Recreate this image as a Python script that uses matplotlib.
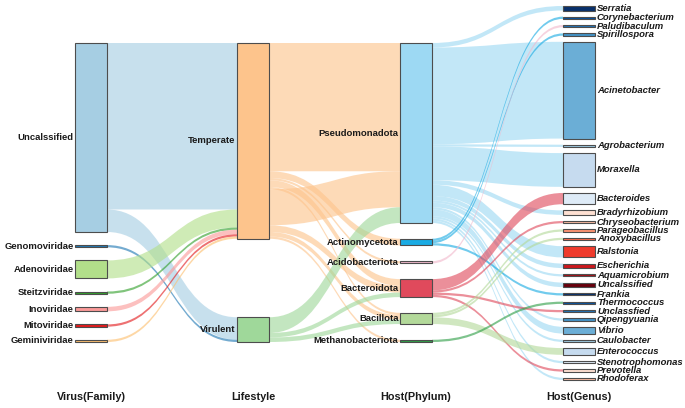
import matplotlib
matplotlib.use("Agg")
import matplotlib.pyplot as plt
from matplotlib.patches import Rectangle, PathPatch
from matplotlib.path import Path

plt.rcParams['font.family'] = ['Liberation Sans', 'DejaVu Sans']

# ---- nodes of each column ----
families = ['Uncalssified', 'Genomoviridae', 'Adenoviridae', 'Steitzviridae',
            'Inoviridae', 'Mitoviridae', 'Geminiviridae']
family_colors = ['#a6cee3', '#1f78b4', '#b2df8a', '#33a02c', '#fb9a99', '#e31a1c', '#fdbf6f']

lifestyles = ['Temperate', 'Virulent']
lifestyle_colors = ['#fdc48c', '#9fd89a']

phyla = ['Pseudomonadota', 'Actinomycetota', 'Acidobacteriota', 'Bacteroidota',
         'Bacillota', 'Methanobacteriota']
phylum_colors = ['#9dd9f3', '#1aabe3', '#f2b8cc', '#e04a5c', '#b3d99a', '#2f9e47']

genera = ['Serratia', 'Corynebacterium', 'Paludibaculum', 'Spirillospora', 'Acinetobacter',
          'Agrobacterium', 'Moraxella', 'Bacteroides', 'Bradyrhizobium', 'Chryseobacterium',
          'Parageobacillus', 'Anoxybacillus', 'Ralstonia', 'Escherichia', 'Aquamicrobium',
          'Uncalssified', 'Frankia', 'Thermococcus', 'Unclassfied', 'Qipengyuania', 'Vibrio',
          'Caulobacter', 'Enterococcus', 'Stenotrophomonas', 'Prevotella', 'Rhodoferax']
genus_colors = ['#08306b', '#08519c', '#2171b5', '#4292c6', '#6baed6', '#9ecae1', '#c6dbef',
                '#deebf7', '#fee0d2', '#fcbba1', '#fc9272', '#fb6a4a', '#ef3b2c', '#cb181d',
                '#a50f15', '#67000d', '#08306b', '#08519c', '#2171b5', '#4292c6', '#6baed6',
                '#9ecae1', '#c6dbef', '#deebf7', '#fee0d2', '#fcbba1']

column_titles = ['Virus(Family)', 'Lifestyle', 'Host(Phylum)', 'Host(Genus)']

# ---- links (source, target, count); listed in stacking order at the source ----
family_links = [
    ('Uncalssified', 'Temperate', 74),
    ('Uncalssified', 'Virulent', 10),
    ('Genomoviridae', 'Virulent', 1),
    ('Adenoviridae', 'Temperate', 8),
    ('Steitzviridae', 'Temperate', 1),
    ('Inoviridae', 'Temperate', 2),
    ('Mitoviridae', 'Temperate', 1),
    ('Geminiviridae', 'Temperate', 1),
]

lifestyle_links = [
    ('Temperate', 'Pseudomonadota', 57),
    ('Temperate', 'Actinomycetota', 3),
    ('Temperate', 'Acidobacteriota', 1),
    ('Temperate', 'Bacteroidota', 3),
    ('Temperate', 'Bacillota', 1),
    ('Temperate', 'Pseudomonadota', 16),
    ('Temperate', 'Bacteroidota', 3),
    ('Temperate', 'Bacillota', 2),
    ('Temperate', 'Methanobacteriota', 1),
    ('Virulent', 'Pseudomonadota', 7),
    ('Virulent', 'Bacteroidota', 2),
    ('Virulent', 'Bacillota', 2),
]

phylum_links = [
    ('Pseudomonadota', 'Serratia', 2),
    ('Pseudomonadota', 'Acinetobacter', 43),
    ('Pseudomonadota', 'Agrobacterium', 1),
    ('Pseudomonadota', 'Moraxella', 15),
    ('Pseudomonadota', 'Bradyrhizobium', 2),
    ('Pseudomonadota', 'Ralstonia', 5),
    ('Pseudomonadota', 'Escherichia', 2),
    ('Pseudomonadota', 'Aquamicrobium', 1),
    ('Pseudomonadota', 'Uncalssified', 2),
    ('Pseudomonadota', 'Qipengyuania', 1),
    ('Pseudomonadota', 'Vibrio', 3),
    ('Pseudomonadota', 'Caulobacter', 1),
    ('Pseudomonadota', 'Stenotrophomonas', 1),
    ('Pseudomonadota', 'Rhodoferax', 1),
    ('Actinomycetota', 'Corynebacterium', 1),
    ('Actinomycetota', 'Spirillospora', 1),
    ('Actinomycetota', 'Frankia', 1),
    ('Acidobacteriota', 'Paludibaculum', 1),
    ('Bacteroidota', 'Bacteroides', 5),
    ('Bacteroidota', 'Chryseobacterium', 1),
    ('Bacteroidota', 'Unclassfied', 1),
    ('Bacteroidota', 'Prevotella', 1),
    ('Bacillota', 'Parageobacillus', 1),
    ('Bacillota', 'Anoxybacillus', 1),
    ('Bacillota', 'Enterococcus', 3),
    ('Methanobacteriota', 'Thermococcus', 1),
]

columns = [families, lifestyles, phyla, genera]
colors = [family_colors, lifestyle_colors, phylum_colors, genus_colors]
links = [family_links, lifestyle_links, phylum_links]

# ---- layout (figure pixels, y down) ----
col_x = [75, 237, 400, 563]
node_w = 32
col_span = [(43, 342), (43, 342), (43, 342), (6, 380)]
unit = 2.25  # pixels per count

# node values: outgoing for the first column, incoming for the others
values = []
for c, names in enumerate(columns):
    v = dict((n, 0) for n in names)
    if c == 0:
        for s, t, n in links[0]:
            v[s] += n
    else:
        for s, t, n in links[c - 1]:
            v[t] += n
    values.append(v)

tops = []
for c, names in enumerate(columns):
    total = sum(values[c].values()) * unit
    y0, y1 = col_span[c]
    gap = (y1 - y0 - total) / (len(names) - 1)
    y = y0
    d = {}
    for n in names:
        d[n] = y
        y += values[c][n] * unit + gap
    tops.append(d)

fig = plt.figure(figsize=(6.85, 4.08), dpi=100)
ax = fig.add_axes([0, 0, 1, 1])
ax.set_xlim(0, 685)
ax.set_ylim(408, 0)
ax.axis('off')


def ribbon(xs, ys0, ys1, xt, yt0, yt1, color):
    xm = (xs + xt) / 2
    verts = [(xs, ys0), (xm, ys0), (xm, yt0), (xt, yt0),
             (xt, yt1), (xm, yt1), (xm, ys1), (xs, ys1), (xs, ys0)]
    codes = [Path.MOVETO, Path.CURVE4, Path.CURVE4, Path.CURVE4,
             Path.LINETO, Path.CURVE4, Path.CURVE4, Path.CURVE4, Path.CLOSEPOLY]
    ax.add_patch(PathPatch(Path(verts, codes), facecolor=color, edgecolor='none',
                           alpha=0.62, zorder=1))


# ---- ribbons ----
for c, lk in enumerate(links):
    src_off = dict(tops[c])
    slots = []
    for s, t, n in lk:
        slots.append(src_off[s])
        src_off[s] += n * unit
    tgt_off = dict(tops[c + 1])
    order = sorted(range(len(lk)), key=lambda i: slots[i])
    tslots = [0] * len(lk)
    for i in order:
        t = lk[i][1]
        tslots[i] = tgt_off[t]
        tgt_off[t] += lk[i][2] * unit
    for i, (s, t, n) in enumerate(lk):
        col = colors[c][columns[c].index(s)]
        h = n * unit
        ribbon(col_x[c] + node_w, slots[i], slots[i] + h,
               col_x[c + 1], tslots[i], tslots[i] + h, col)

# ---- nodes and labels ----
for c, names in enumerate(columns):
    for k, n in enumerate(names):
        y = tops[c][n]
        h = values[c][n] * unit
        ax.add_patch(Rectangle((col_x[c], y), node_w, h, facecolor=colors[c][k],
                               edgecolor='#4d4d4d', linewidth=0.8, zorder=2))
        if c < 3:
            ax.text(col_x[c] - 1.5, y + h / 2, n, ha='right', va='center',
                    fontsize=6.8, fontweight='bold', color='#1a1a1a', zorder=3)
        else:
            ax.text(col_x[c] + node_w + 2, y + h / 2, n, ha='left', va='center',
                    fontsize=6.8, fontweight='bold', style='italic', color='#1a1a1a', zorder=3)

for c, title in enumerate(column_titles):
    ax.text(col_x[c] + node_w / 2, 397, title, ha='center', va='center',
            fontsize=7.8, fontweight='bold', color='#1a1a1a')

fig.savefig('out.png', dpi=100)
plt.close(fig)
